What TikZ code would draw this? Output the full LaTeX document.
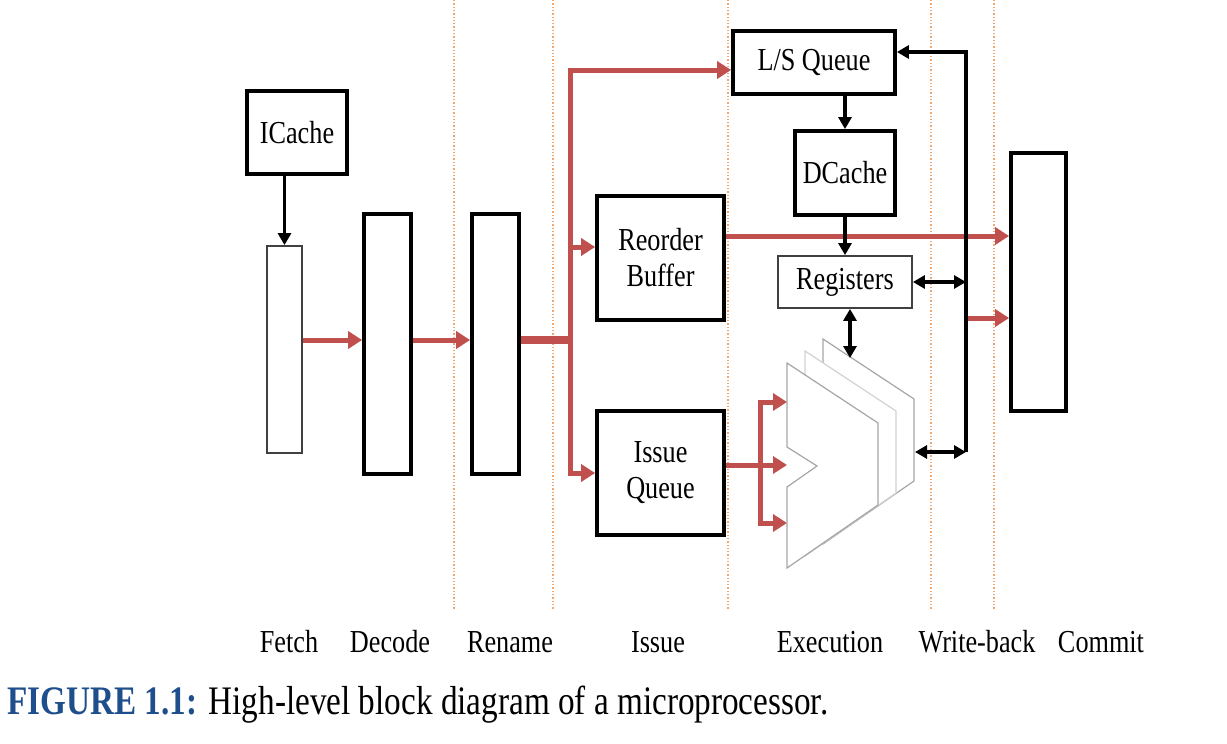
\documentclass[tikz,border=0pt]{standalone}
\usepackage{fontspec}
\setmainfont{Liberation Serif}[FakeStretch=0.82]
\usepackage{tikz}
\usetikzlibrary{positioning,arrows.meta}
\definecolor{pipered}{HTML}{C0504D}
\definecolor{stageline}{HTML}{F0A870}
\definecolor{capblue}{HTML}{1F4E8C}

\begin{document}
\begin{tikzpicture}[x=1pt,y=-1pt,font=\fontsize{32}{36}\selectfont,
blk/.style={draw,line width=3.8pt,fill=white,align=center,inner sep=0pt},
thinbox/.style={draw=black!75,line width=1.8pt,fill=white,align=center,inner sep=0pt},
redarrow/.style={draw=pipered,line width=5pt,-{Triangle[length=14pt,width=17pt]}},
blkarrow/.style={line width=3.2pt,-{Triangle[length=12pt,width=13pt]}},
dblarrow/.style={line width=3.2pt,{Triangle[length=12pt,width=13pt]}-{Triangle[length=12pt,width=13pt]}},
alu/.style={draw=gray!70,line width=1.2pt,fill=white},
stage/.style={draw=stageline,line width=1.3pt,dotted}]
\useasboundingbox (0,0) rectangle (1227,744);
\foreach \x in {454,553,728,931,994} \draw[stage] (\x,0) -- (\x,610);
\node[blk,minimum width=100pt,minimum height=83pt] (icache) at (297,132.5) {ICache};
\node[thinbox,minimum width=35pt,minimum height=207pt] (fetch) at (284.5,349.5) {};
\node[blk,minimum width=47pt,minimum height=260pt] (decode) at (387.5,344) {};
\node[blk,minimum width=47pt,minimum height=260pt] (rename) at (495.5,344) {};
\node[blk,minimum width=162pt,minimum height=63pt] (lsq) at (814,62.5) {L/S Queue};
\node[blk,minimum width=100pt,minimum height=84pt] (dcache) at (845,173) {DCache};
\node[blk,minimum width=127pt,minimum height=124pt] (reorder) at (660.5,258) {Reorder\\Buffer};
\node[thinbox,minimum width=134pt,minimum height=52pt] (registers) at (845,282) {Registers};
\node[blk,minimum width=127pt,minimum height=124pt] (issue) at (660.5,473) {Issue\\Queue};
\node[blk,minimum width=55pt,minimum height=258pt] (commit) at (1038.5,282) {};
% execution units
\foreach \dx/\dy/\c in {36/-24/gray!70,18/-12/gray!35,0/0/gray!70}
  \draw[alu,draw=\c,shift={(\dx,\dy)}] (787,363) -- (878,423) -- (878,505) -- (787,568)
    -- (787,487) -- (817,466) -- (787,447) -- cycle;
\coordinate (bus) at (570,340);
\coordinate (fan) at (760,465);
\coordinate (aluin1) at (787,402);
\coordinate (aluin2) at (787,465);
\coordinate (aluin3) at (787,523);
\coordinate (alutop) at (850,358);
\coordinate (aluout) at (915,452);
\coordinate (wbtop) at (966,52);
\coordinate (wbbot) at (966,452);
\coordinate (wbred) at (966,318);
\coordinate (robout) at ([yshift=22pt]reorder.east);
\coordinate (iqout) at ([yshift=8pt]issue.east);
% pipeline flow
\draw[redarrow] (fetch.east |- bus) -- (decode.west |- bus);
\draw[redarrow] (decode.east |- bus) -- (rename.west |- bus);
\draw[draw=pipered,line width=8pt] (rename.east |- bus) -- (bus);
\draw[redarrow] (bus) |- ([yshift=-7.5pt]lsq.west);
\draw[redarrow] (bus) |- ([yshift=11pt]reorder.west);
\draw[redarrow] (bus) |- (issue.west);
\draw[redarrow] (robout) -- (robout -| commit.west);
\draw[redarrow] (wbred) -- (wbred -| commit.west);
\draw[draw=pipered,line width=5pt] (iqout) -- (fan);
\draw[redarrow] (fan) |- (aluin1);
\draw[redarrow] (fan) -- (aluin2);
\draw[redarrow] (fan) |- (aluin3);
% memory and write-back
\draw[blkarrow] (icache.south -| fetch.north) -- (fetch.north);
\draw[blkarrow] (lsq.south -| dcache.north) -- (dcache.north);
\draw[blkarrow] (dcache.south) -- (registers.north);
\draw[dblarrow] (registers.south -| alutop) -- (alutop);
\draw[blkarrow] (wbbot) -- (wbtop) -- (wbtop -| lsq.east);
\draw[dblarrow] (registers.east) -- (registers.east -| wbtop);
\draw[dblarrow] (aluout) -- (wbbot);
\foreach \x/\t [count=\i] in {289/Fetch,390/Decode,510/Rename,658/Issue,830/Execution,977/Write-back,1101/Commit}
  \node (stage\i) at (\x,642) {\t};
\node[anchor=west,font=\fontsize{40.5}{46}\selectfont] (caption) at (4,705)
  {\textcolor{capblue}{\bfseries FIGURE 1.1:} High-level block diagram of a microprocessor.};
\end{tikzpicture}
\end{document}
